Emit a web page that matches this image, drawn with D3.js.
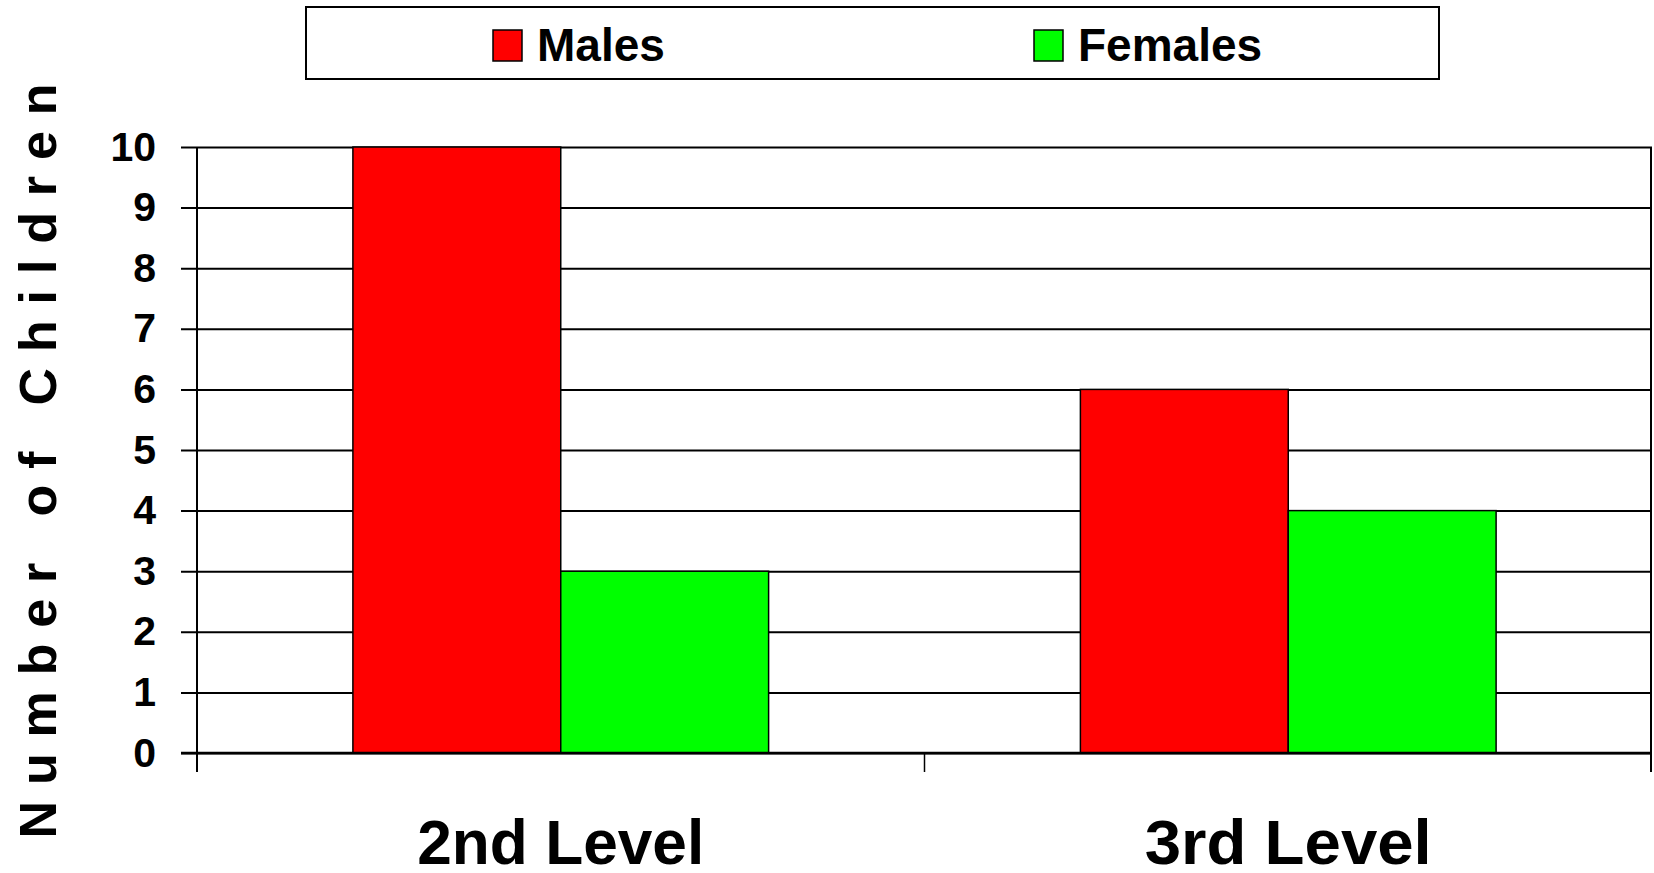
<!DOCTYPE html>
<html>
<head>
<meta charset="utf-8">
<script src="https://cdn.jsdelivr.net/npm/d3@7"></script>
<style>
  body { margin: 0; background: #fff; }
  svg { display: block; font-family: "Liberation Sans", Arial, sans-serif; font-weight: bold; }
</style>
</head>
<body>
<svg width="1654" height="873"></svg>
<script>
var categories = ["2nd Level", "3rd Level"];
var seriesNames = ["Males", "Females"];
var males = [10, 6];
var females = [3, 4];
var yTicks = [0, 1, 2, 3, 4, 5, 6, 7, 8, 9, 10];
var colors = ["#ff0000", "#00ff00"];

var svg = d3.select("svg"),
    plotLeft = 197, plotRight = 1652, plotTop = 147, plotBottom = 753;

var data = categories.map(function(c, i) {
    return { cat: c, values: [males[i], females[i]] };
});

var x = d3.scaleBand().domain(categories).range([plotLeft, plotRight]).padding(0);
var xs = d3.scaleBand().domain(seriesNames).range([0, x.bandwidth()])
    .paddingInner(0).paddingOuter(0.75);
var y = d3.scaleLinear().domain([0, 10]).range([plotBottom, plotTop]);
var color = d3.scaleOrdinal(seriesNames, colors);

// gridlines with left tick marks
var yAxis = d3.axisLeft(y).tickValues(yTicks).tickSize(-(plotRight - plotLeft)).tickSizeOuter(0).tickPadding(41);
var gy = svg.append("g").attr("transform", "translate(" + plotLeft + ",0)").call(yAxis);
gy.select(".domain").remove();
gy.selectAll(".tick line").attr("x1", -16).attr("stroke", "#000").attr("stroke-width", 2);
gy.selectAll(".tick text").attr("font-size", 41).attr("fill", "#000")
    .attr("font-family", "Liberation Sans, Arial, sans-serif").attr("font-weight", "bold");

// plot frame: left axis and right edge
svg.append("line").attr("x1", plotLeft).attr("x2", plotLeft).attr("y1", plotTop).attr("y2", plotBottom + 19)
    .attr("stroke", "#000").attr("stroke-width", 2);
svg.append("line").attr("x1", plotRight - 1).attr("x2", plotRight - 1).attr("y1", plotTop).attr("y2", plotBottom + 19)
    .attr("stroke", "#000").attr("stroke-width", 2);

// bars
var groups = svg.selectAll(".cat")
    .data(data)
    .enter().append("g")
    .attr("class", "cat")
    .attr("transform", function(d) { return "translate(" + x(d.cat) + ",0)"; });

groups.selectAll("rect")
    .data(function(d) { return d.values.map(function(v, j) { return { name: seriesNames[j], value: v }; }); })
    .enter().append("rect")
    .attr("x", function(d) { return xs(d.name); })
    .attr("y", function(d) { return y(d.value); })
    .attr("width", xs.bandwidth())
    .attr("height", function(d) { return y(0) - y(d.value); })
    .attr("fill", function(d) { return color(d.name); })
    .attr("stroke", "#000")
    .attr("stroke-width", 1.5);

// x axis baseline and category ticks
svg.append("line").attr("x1", plotLeft - 16).attr("x2", plotRight).attr("y1", plotBottom).attr("y2", plotBottom)
    .attr("stroke", "#000").attr("stroke-width", 2.5);
var boundaries = categories.map(function(c) { return x(c); }).concat([plotRight - 1]);
svg.selectAll(".ctick")
    .data(boundaries)
    .enter().append("line")
    .attr("x1", function(d) { return d; }).attr("x2", function(d) { return d; })
    .attr("y1", plotBottom).attr("y2", plotBottom + 19)
    .attr("stroke", "#000").attr("stroke-width", 1.5);

svg.selectAll(".clabel")
    .data(categories)
    .enter().append("text")
    .attr("x", function(d) { return x(d) + x.bandwidth() / 2; })
    .attr("y", 864)
    .attr("text-anchor", "middle")
    .attr("font-size", 63)
    .attr("textLength", 287)
    .attr("lengthAdjust", "spacingAndGlyphs")
    .text(function(d) { return d; });

// y axis title
svg.append("text")
    .attr("transform", "translate(56,461) rotate(-90)")
    .attr("text-anchor", "middle")
    .attr("font-size", 52)
    .attr("textLength", 755)
    .attr("lengthAdjust", "spacing")
    .text("Number of Children");

// legend
svg.append("rect").attr("x", 306).attr("y", 7).attr("width", 1133).attr("height", 72)
    .attr("fill", "#fff").attr("stroke", "#000").attr("stroke-width", 2);
var legendX = [493, 1034];
var leg = svg.selectAll(".leg")
    .data(seriesNames)
    .enter().append("g")
    .attr("transform", function(d, i) { return "translate(" + legendX[i] + ",30)"; });
leg.append("rect").attr("width", 29).attr("height", 31)
    .attr("fill", function(d) { return color(d); })
    .attr("stroke", "#000").attr("stroke-width", 1.5);
leg.append("text").attr("x", 44).attr("y", 31).attr("font-size", 46)
    .text(function(d) { return d; });
</script>
</body>
</html>
